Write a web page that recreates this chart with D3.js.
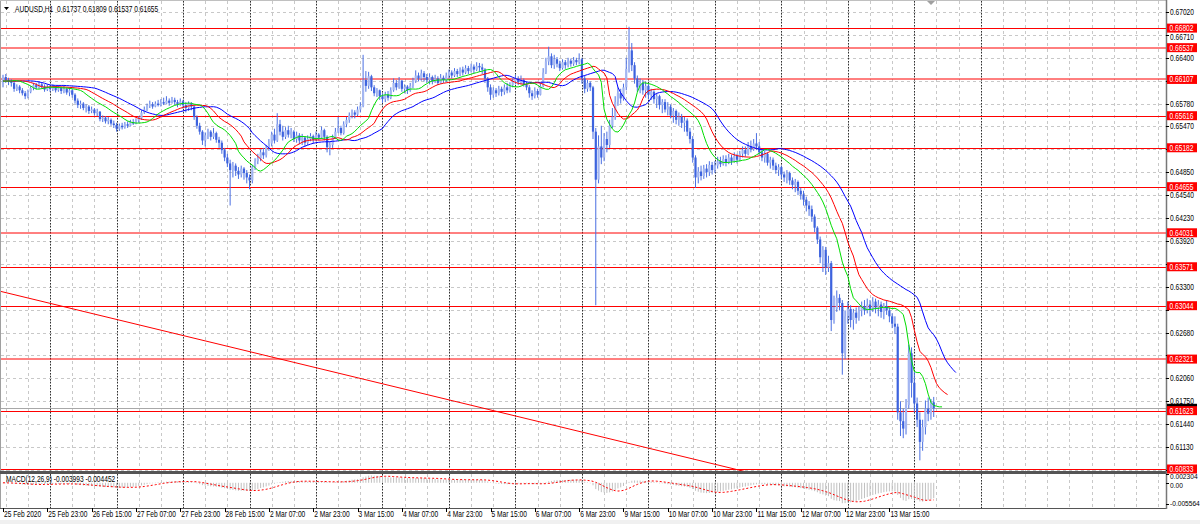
<!DOCTYPE html>
<html><head><meta charset="utf-8">
<script src="https://cdn.jsdelivr.net/npm/d3@7"></script>
<style>body{margin:0;background:#fff;} svg{display:block;font-family:"Liberation Sans",Arial,sans-serif;}</style>
</head><body><svg id="c" width="1200" height="524"></svg>
<script>
// ---------------- DATA ----------------
const symbol = "AUDUSD,H1";
const lastOHLC = [0.61737, 0.61809, 0.61537, 0.61655];
const firstOpen = 0.6604;
const closes = [
0.6614,0.6610,0.6608,0.6606,0.6598,0.6601,0.6596,0.6592,0.6588,0.6594,
0.6599,0.6603,0.6600,0.6604,0.6601,0.6597,0.6600,0.6598,0.6601,0.6596,
0.6599,0.6595,0.6598,0.6593,0.6596,0.6590,0.6582,0.6576,0.6578,0.6572,
0.6574,0.6568,0.6570,0.6565,0.6567,0.6557,0.6559,0.6554,0.6556,0.6551,
0.6549,0.6544,0.6548,0.6546,0.6550,0.6548,0.6553,0.6551,0.6555,0.6558,
0.6566,0.6570,0.6575,0.6577,0.6574,0.6578,0.6576,0.6580,0.6578,0.6582,
0.6579,0.6583,0.6580,0.6577,0.6581,0.6576,0.6572,0.6578,0.6574,0.6560,
0.6548,0.6540,0.6528,0.6535,0.6540,0.6533,0.6538,0.6529,0.6525,0.6515,
0.6505,0.6497,0.6488,0.6494,0.6487,0.6482,0.6490,0.6484,0.6478,0.6474,
0.6492,0.6500,0.6504,0.6512,0.6508,0.6518,0.6524,0.6536,0.6528,0.6550,
0.6540,0.6533,0.6542,0.6536,0.6540,0.6530,0.6535,0.6528,0.6532,0.6525,
0.6530,0.6534,0.6529,0.6536,0.6532,0.6542,0.6533,0.6519,0.6522,0.6532,
0.6540,0.6545,0.6538,0.6550,0.6556,0.6562,0.6566,0.6563,0.6570,0.6575,
0.6610,0.6602,0.6615,0.6600,0.6592,0.6596,0.6588,0.6584,0.6590,0.6586,
0.6596,0.6606,0.6600,0.6609,0.6598,0.6601,0.6596,0.6602,0.6608,0.6616,
0.6612,0.6619,0.6614,0.6610,0.6614,0.6608,0.6612,0.6606,0.6613,0.6610,
0.6616,0.6620,0.6616,0.6622,0.6618,0.6624,0.6620,0.6626,0.6622,0.6628,
0.6624,0.6629,0.6627,0.6624,0.6612,0.6600,0.6590,0.6596,0.6592,0.6598,
0.6594,0.6600,0.6596,0.6603,0.6608,0.6612,0.6607,0.6610,0.6604,0.6600,
0.6592,0.6588,0.6595,0.6590,0.6602,0.6620,0.6635,0.6642,0.6630,0.6638,
0.6632,0.6626,0.6634,0.6630,0.6636,0.6632,0.6637,0.6634,0.6638,0.6612,
0.6598,0.6606,0.6600,0.6540,0.6475,0.6520,0.6505,0.6530,0.6522,0.6548,
0.6560,0.6580,0.6592,0.6585,0.6600,0.6625,0.6650,0.6630,0.6612,0.6600,
0.6606,0.6596,0.6602,0.6590,0.6594,0.6584,0.6588,0.6576,0.6580,0.6570,
0.6574,0.6562,0.6568,0.6556,0.6560,0.6552,0.6555,0.6540,0.6530,0.6505,
0.6478,0.6486,0.6480,0.6490,0.6485,0.6495,0.6488,0.6494,0.6500,0.6496,
0.6503,0.6498,0.6505,0.6500,0.6507,0.6502,0.6510,0.6515,0.6510,0.6520,
0.6516,0.6524,0.6520,0.6512,0.6505,0.6510,0.6498,0.6502,0.6494,0.6488,
0.6492,0.6482,0.6478,0.6484,0.6474,0.6468,0.6472,0.6460,0.6455,0.6448,
0.6440,0.6435,0.6425,0.6410,0.6394,0.6370,0.6380,0.6356,0.6362,0.6285,
0.6300,0.6315,0.6308,0.6240,0.6290,0.6300,0.6285,0.6295,0.6288,0.6298,
0.6304,0.6298,0.6306,0.6300,0.6310,0.6302,0.6306,0.6296,0.6304,0.6298,
0.6290,0.6280,0.6276,0.6160,0.6148,0.6138,0.6170,0.6240,0.6200,0.6172,
0.6150,0.6120,0.6140,0.6165,0.6158,0.61737,0.61655];
const highs = [
0.6617,0.6618,0.6613,0.6611,0.6608,0.6604,0.6603,0.6599,0.6595,0.6597,
0.6602,0.6606,0.6606,0.6608,0.6607,0.6604,0.6604,0.6603,0.6604,0.6602,
0.6603,0.6601,0.6602,0.6600,0.6600,0.6598,0.6592,0.6585,0.6582,0.6580,
0.6577,0.6576,0.6574,0.6572,0.6571,0.6568,0.6562,0.6561,0.6560,0.6558,
0.6555,0.6552,0.6551,0.6552,0.6553,0.6554,0.6556,0.6557,0.6558,0.6561,
0.6569,0.6574,0.6578,0.6582,0.6580,0.6581,0.6583,0.6584,0.6586,0.6588,
0.6585,0.6587,0.6586,0.6583,0.6585,0.6583,0.6580,0.6581,0.6580,0.6576,
0.6562,0.6552,0.6542,0.6539,0.6544,0.6542,0.6545,0.6540,0.6533,0.6528,
0.6518,0.6510,0.6502,0.6499,0.6497,0.6492,0.6494,0.6492,0.6488,0.6482,
0.6495,0.6504,0.6510,0.6516,0.6518,0.6522,0.6530,0.6540,0.6544,0.6565,
0.6556,0.6548,0.6546,0.6548,0.6545,0.6542,0.6540,0.6538,0.6537,0.6534,
0.6535,0.6538,0.6536,0.6540,0.6538,0.6547,0.6544,0.6535,0.6526,0.6536,
0.6545,0.6560,0.6548,0.6554,0.6560,0.6566,0.6570,0.6569,0.6574,0.6580,
0.6644,0.6622,0.6621,0.6617,0.6603,0.6599,0.6597,0.6592,0.6594,0.6595,
0.6600,0.6612,0.6610,0.6614,0.6610,0.6604,0.6603,0.6606,0.6613,0.6623,
0.6620,0.6624,0.6622,0.6618,0.6619,0.6616,0.6617,0.6615,0.6618,0.6616,
0.6620,0.6624,0.6623,0.6626,0.6625,0.6627,0.6628,0.6630,0.6629,0.6632,
0.6631,0.6634,0.6633,0.6632,0.6626,0.6614,0.6604,0.6600,0.6599,0.6602,
0.6601,0.6604,0.6606,0.6607,0.6612,0.6617,0.6615,0.6616,0.6612,0.6608,
0.6603,0.6596,0.6600,0.6598,0.6606,0.6626,0.6640,0.6655,0.6646,0.6644,
0.6641,0.6636,0.6638,0.6637,0.6640,0.6639,0.6641,0.6640,0.6646,0.6640,
0.6616,0.6610,0.6608,0.6602,0.6545,0.6535,0.6548,0.6538,0.6540,0.6556,
0.6572,0.6588,0.6600,0.6598,0.6605,0.6640,0.6682,0.6660,0.6634,0.6616,
0.6612,0.6610,0.6608,0.6605,0.6598,0.6596,0.6592,0.6590,0.6584,0.6584,
0.6580,0.6577,0.6572,0.6570,0.6566,0.6564,0.6560,0.6558,0.6545,0.6534,
0.6508,0.6492,0.6494,0.6495,0.6496,0.6500,0.6499,0.6500,0.6506,0.6506,
0.6508,0.6508,0.6510,0.6509,0.6512,0.6510,0.6514,0.6520,0.6520,0.6526,
0.6528,0.6530,0.6538,0.6526,0.6516,0.6514,0.6512,0.6506,0.6505,0.6498,
0.6496,0.6494,0.6486,0.6488,0.6486,0.6478,0.6476,0.6474,0.6464,0.6460,
0.6452,0.6446,0.6440,0.6428,0.6412,0.6398,0.6385,0.6384,0.6372,0.6365,
0.6318,0.6325,0.6320,0.6312,0.6298,0.6310,0.6305,0.6300,0.6302,0.6304,
0.6310,0.6312,0.6314,0.6312,0.6316,0.6314,0.6312,0.6310,0.6308,0.6312,
0.6302,0.6294,0.6290,0.6280,0.6175,0.6165,0.6178,0.6252,0.6248,0.6215,
0.6180,0.6160,0.6150,0.6176,0.6180,0.6178,0.61809];
const lows = [
0.6600,0.6606,0.6603,0.6601,0.6594,0.6595,0.6592,0.6589,0.6584,0.6585,
0.6592,0.6596,0.6597,0.6598,0.6598,0.6594,0.6595,0.6594,0.6595,0.6593,
0.6594,0.6591,0.6592,0.6590,0.6588,0.6586,0.6578,0.6572,0.6571,0.6569,
0.6566,0.6564,0.6565,0.6562,0.6561,0.6554,0.6553,0.6551,0.6550,0.6548,
0.6545,0.6540,0.6541,0.6543,0.6544,0.6545,0.6547,0.6549,0.6550,0.6552,
0.6556,0.6564,0.6568,0.6572,0.6571,0.6573,0.6574,0.6574,0.6576,0.6577,
0.6575,0.6578,0.6576,0.6573,0.6575,0.6571,0.6566,0.6568,0.6569,0.6556,
0.6544,0.6536,0.6522,0.6520,0.6530,0.6528,0.6530,0.6525,0.6518,0.6510,
0.6500,0.6492,0.6440,0.6478,0.6480,0.6476,0.6478,0.6475,0.6470,0.6462,
0.6470,0.6488,0.6496,0.6500,0.6503,0.6505,0.6514,0.6520,0.6524,0.6526,
0.6535,0.6528,0.6530,0.6532,0.6531,0.6526,0.6525,0.6523,0.6522,0.6520,
0.6522,0.6527,0.6524,0.6527,0.6528,0.6530,0.6528,0.6512,0.6508,0.6518,
0.6530,0.6538,0.6535,0.6536,0.6546,0.6552,0.6558,0.6558,0.6561,0.6566,
0.6573,0.6594,0.6598,0.6595,0.6588,0.6587,0.6583,0.6579,0.6580,0.6582,
0.6584,0.6594,0.6596,0.6598,0.6594,0.6592,0.6591,0.6594,0.6599,0.6606,
0.6608,0.6609,0.6608,0.6606,0.6604,0.6604,0.6606,0.6603,0.6605,0.6606,
0.6607,0.6612,0.6612,0.6614,0.6614,0.6615,0.6616,0.6618,0.6618,0.6620,
0.6619,0.6622,0.6621,0.6618,0.6606,0.6594,0.6583,0.6586,0.6587,0.6589,
0.6588,0.6590,0.6592,0.6593,0.6600,0.6604,0.6603,0.6604,0.6601,0.6596,
0.6586,0.6583,0.6585,0.6586,0.6589,0.6600,0.6618,0.6630,0.6626,0.6625,
0.6627,0.6622,0.6624,0.6625,0.6627,0.6628,0.6629,0.6630,0.6631,0.6605,
0.6592,0.6594,0.6595,0.6530,0.6305,0.6470,0.6496,0.6500,0.6512,0.6518,
0.6545,0.6556,0.6575,0.6578,0.6582,0.6596,0.6620,0.6622,0.6605,0.6594,
0.6592,0.6590,0.6586,0.6584,0.6583,0.6578,0.6572,0.6570,0.6565,0.6566,
0.6562,0.6558,0.6552,0.6550,0.6548,0.6545,0.6540,0.6534,0.6524,0.6498,
0.6464,0.6470,0.6474,0.6476,0.6478,0.6480,0.6482,0.6484,0.6490,0.6492,
0.6494,0.6493,0.6496,0.6495,0.6498,0.6497,0.6500,0.6505,0.6506,0.6508,
0.6512,0.6514,0.6515,0.6508,0.6500,0.6498,0.6494,0.6490,0.6488,0.6483,
0.6480,0.6476,0.6472,0.6470,0.6468,0.6462,0.6458,0.6454,0.6448,0.6440,
0.6432,0.6426,0.6418,0.6404,0.6388,0.6362,0.6350,0.6346,0.6350,0.6270,
0.6280,0.6296,0.6298,0.6211,0.6232,0.6280,0.6275,0.6272,0.6280,0.6284,
0.6290,0.6292,0.6294,0.6290,0.6296,0.6294,0.6290,0.6288,0.6286,0.6292,
0.6282,0.6274,0.6266,0.6150,0.6128,0.6125,0.6130,0.6165,0.6180,0.6160,
0.6140,0.6095,0.6108,0.6130,0.6148,0.6150,0.61537];

const timeLabels = ["25 Feb 2020","25 Feb 23:00","26 Feb 15:00","27 Feb 07:00","27 Feb 23:00",
 "28 Feb 15:00","2 Mar 07:00","2 Mar 23:00","3 Mar 15:00","4 Mar 07:00","4 Mar 23:00",
 "5 Mar 15:00","6 Mar 07:00","6 Mar 23:00","9 Mar 15:00","10 Mar 07:00","10 Mar 23:00",
 "11 Mar 15:00","12 Mar 07:00","12 Mar 23:00","13 Mar 15:00"];
const labelEvery = 16;          // bars between time labels
const priceTicks = [0.67020,0.66710,0.66400,0.66090,0.65780,0.65470,0.65160,0.64850,0.64540,
 0.64230,0.63920,0.63610,0.63300,0.62990,0.62680,0.62370,0.62060,0.61750,0.61440,0.61130,0.60820];
const levels = [0.66802,0.66537,0.66107,0.65616,0.65182,0.64655,0.64031,0.63571,0.63044,0.62321,0.61623,0.60833];
const softLevels = [0.66537,0.66107,0.64031,0.62321];
const bidPrice = 0.61655;
const trendline = [[0, 0.6323],[260, 0.6087]];   // [bar, price] anchors
const macdTicks = [0.002304, 0.00, -0.005564];
const macdReadout = [-0.003993, -0.004452];
const macdParams = [12, 26, 9];
const alligatorParams = [ // [period, shift, colour]
  [13, 8, "#0000ff"], [8, 5, "#ff0000"], [5, 3, "#00dd00"]];

// ---------------- LAYOUT ----------------
const svg = d3.select("#c");
const plotRight = 1166, mainTop = 1, mainBottom = 471, macdTop = 474, macdBottom = 508;
const x = d3.scaleLinear().domain([0, 320]).range([3, 889.4]);
const y = d3.scaleLinear().domain([0.60833, 0.67020]).range([469, 12]);
const ym = d3.scaleLinear().domain([-0.005564, 0.002304]).range([504, 474]);
const N = closes.length;

svg.append("rect").attr("width",1200).attr("height",524).attr("fill","#fff");
svg.append("rect").attr("x",0).attr("y",520).attr("width",1200).attr("height",4).attr("fill","#f0f0f0");

const defs = svg.append("defs");
defs.append("clipPath").attr("id","cm").append("rect").attr("x",1).attr("y",mainTop).attr("width",plotRight-1).attr("height",mainBottom-mainTop);
defs.append("clipPath").attr("id","cd").append("rect").attr("x",1).attr("y",macdTop).attr("width",plotRight-1).attr("height",macdBottom-macdTop);

function txt(g, tx, ty, s, fill, size){
  const fs = size || 8.5;
  return g.append("text").attr("transform",`translate(${tx},${ty}) scale(${0.78*8.5/fs},1)`)
    .attr("dy","0.35em").attr("font-size",fs).attr("fill",fill||"#000").text(s);
}

// ---------- grid ----------
const grid = svg.append("g");
priceTicks.forEach(v=>{
  const yy = Math.round(y(v))+0.5;
  grid.append("line").attr("x1",1).attr("x2",plotRight).attr("y1",yy).attr("y2",yy)
    .attr("stroke","#c8c8c8").attr("stroke-dasharray","3,3");
});
for(let i=1; x(i)<plotRight; i+=8){
  const xx = Math.round(x(i))+0.5;
  [[mainTop,mainBottom],[macdTop,macdBottom]].forEach(([a,b])=>
    grid.append("line").attr("x1",xx).attr("x2",xx).attr("y1",a).attr("y2",b)
      .attr("stroke","#c8c8c8").attr("stroke-dasharray","3,3"));
}
for(let i=17; i<=N+17; i+=24){
  const xx = Math.round(x(i))+0.5;
  [[mainTop,mainBottom],[macdTop,macdBottom]].forEach(([a,b])=>
    grid.append("line").attr("x1",xx).attr("x2",xx).attr("y1",a).attr("y2",b)
      .attr("stroke","#303030").attr("stroke-dasharray","1.5,1.5"));
}

// ---------- main panel ----------
const main = svg.append("g").attr("clip-path","url(#cm)");

levels.forEach(v=>{
  const soft = softLevels.includes(v);
  const yy = soft ? Math.round(y(v)) : Math.round(y(v))+0.5;
  main.append("line").attr("x1",1).attr("x2",plotRight).attr("y1",yy).attr("y2",yy)
    .attr("stroke","#ff0000").attr("stroke-width",1);
});
main.append("line").attr("x1",1).attr("x2",plotRight)
  .attr("y1",Math.round(y(bidPrice))+0.5).attr("y2",Math.round(y(bidPrice))+0.5)
  .attr("stroke","#a8a8a8");

const [[b1,p1],[b2,p2]] = trendline;
const slope = (p2-p1)/(b2-b1);
const tEnd = 500;
main.append("path").attr("d", d3.line()([[x(-2), y(p1+slope*(-2-b1))],[x(tEnd), y(p1+slope*(tEnd-b1))]]))
  .attr("stroke","#ff0000").attr("fill","none");

const opens = closes.map((c,i)=> i===0 ? firstOpen : closes[i-1]);
const cg = main.append("g");
for(let i=0;i<N;i++){
  const cx = x(i), o = opens[i], c = closes[i];
  const bull = c >= o;
  cg.append("line").attr("x1",cx).attr("x2",cx).attr("y1",y(highs[i])).attr("y2",y(lows[i]))
    .attr("stroke","#4a6fe2").attr("stroke-width",1);
  const top = y(Math.max(o,c)), bot = y(Math.min(o,c));
  cg.append("rect").attr("x",cx-1.1).attr("width",2.2).attr("y",top).attr("height",Math.max(1,bot-top))
    .attr("fill", bull ? "#a3b6f1" : "#3d63de");
}

const median = highs.map((h,i)=>(h+lows[i])/2);
alligatorParams.forEach(([n,shift,col])=>{
  let s = median[0];
  const pts = [];
  for(let j=0;j<shift;j++) pts.push([j, s]);
  for(let i=0;i<N;i++){ s = (s*(n-1)+median[i])/n; pts.push([i+shift, s]); }
  main.append("path").attr("d", d3.line().x(d=>x(d[0])).y(d=>y(d[1]))(pts))
    .attr("fill","none").attr("stroke",col).attr("stroke-width",1);
});

// ---------- MACD panel ----------
const [fastN, slowN, sigN] = macdParams;
const kf = 2/(fastN+1), ks = 2/(slowN+1);
let ef = closes[0], es = closes[0];
const macd = closes.map(c=>{ ef = ef + kf*(c-ef); es = es + ks*(c-es); return ef-es; });
const signal = macd.map((m,i)=>{ const a = macd.slice(Math.max(0,i-sigN+1), i+1); return d3.mean(a); });
const mg = svg.append("g").attr("clip-path","url(#cd)");
macd.forEach((m,i)=>{
  const a = ym(0), b = ym(m);
  mg.append("rect").attr("x",x(i)-0.5).attr("width",1).attr("y",Math.min(a,b)).attr("height",Math.max(0.5,Math.abs(b-a)))
    .attr("fill","#c0c0c0");
});
mg.append("path").attr("d", d3.line().x((d,i)=>x(i)).y(d=>ym(d))(signal))
  .attr("fill","none").attr("stroke","#ff0000").attr("stroke-dasharray","2,2");

// ---------- frames ----------
svg.append("line").attr("x1",0.5).attr("x2",0.5).attr("y1",0).attr("y2",macdBottom).attr("stroke","#a0a0a0");
svg.append("line").attr("x1",0).attr("x2",plotRight).attr("y1",0.5).attr("y2",0.5).attr("stroke","#c0c0c0");
svg.append("rect").attr("x",0).attr("y",mainBottom).attr("width",plotRight).attr("height",macdTop-mainBottom).attr("fill","#555");
svg.append("line").attr("x1",0).attr("x2",plotRight+1).attr("y1",macdBottom+0.5).attr("y2",macdBottom+0.5).attr("stroke","#555");
svg.append("line").attr("x1",plotRight+0.5).attr("x2",plotRight+0.5).attr("y1",0).attr("y2",macdBottom+1).attr("stroke","#777").attr("stroke-width",1.5);

// ---------- right axis ----------
const ax = svg.append("g");
priceTicks.forEach(v=>{
  const yy = Math.round(y(v))+0.5;
  ax.append("line").attr("x1",plotRight).attr("x2",plotRight+3).attr("y1",yy).attr("y2",yy).attr("stroke","#000");
  const d = d3.min(levels, l=>Math.abs(y(l)-y(v)));
  if(d < 4) return;                       // fully covered by a level box in the reference
  let ty = y(v);
  if(d < 8.5){ const near = levels.find(l=>Math.abs(y(l)-y(v))===d); ty = y(near) + Math.sign(y(v)-y(near))*8.5; }
  txt(ax, 1170, ty, v.toFixed(5));
});
ax.append("rect").attr("x",1167).attr("y",y(bidPrice)-4.5).attr("width",30).attr("height",9).attr("fill","#000");
levels.forEach(v=>{
  ax.append("rect").attr("x",1167).attr("y",y(v)-4.5).attr("width",30).attr("height",9).attr("fill","#ff0000");
  txt(ax, 1169.5, y(v), v.toFixed(5), "#fff");
});
const macdLabelY = [476.5, 485, 503.5];
macdTicks.forEach((v,k)=>{
  const yy = Math.max(macdTop, Math.min(macdBottom-4, ym(v)));
  ax.append("line").attr("x1",plotRight).attr("x2",plotRight+3).attr("y1",Math.round(yy)+0.5).attr("y2",Math.round(yy)+0.5).attr("stroke","#000");
  txt(ax, 1170, macdLabelY[k], v===0 ? "0.00" : String(v), "#000", 7.5);
});

// ---------- time axis ----------
timeLabels.forEach((s,k)=>{
  const xi = x(k*labelEvery);
  ax.append("line").attr("x1",Math.round(xi)+0.5).attr("x2",Math.round(xi)+0.5).attr("y1",macdBottom).attr("y2",macdBottom+4).attr("stroke","#000");
  txt(ax, xi+1, 514, s);
});

// ---------- header texts ----------
svg.append("path").attr("d","M4,7 L9,7 L6.5,10 Z").attr("fill","#000");
txt(svg, 15, 9, symbol);
txt(svg, 57, 9, lastOHLC.map(v=>v.toFixed(5)).join(" "));
txt(svg, 6, 479, `MACD(${macdParams.join(",")}) ${macdReadout[0].toFixed(6)} ${macdReadout[1].toFixed(6)}`);
svg.append("path").attr("d","M927,1 L935,1 L931,5 Z").attr("fill","#a0a0a0");
</script></body></html>
